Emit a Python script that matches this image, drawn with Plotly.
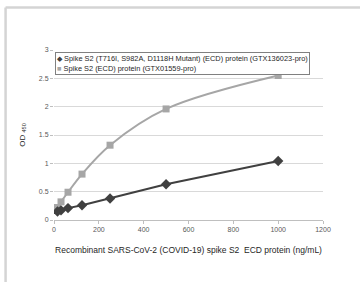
import plotly.graph_objects as go

conc = [15.625, 31.25, 62.5, 125, 250, 500, 1000]
mutant_od = [0.15, 0.17, 0.21, 0.26, 0.38, 0.63, 1.04]
wt_od = [0.22, 0.32, 0.49, 0.81, 1.32, 1.96, 2.55]

name_mut = "Spike S2 (T716I, S982A, D1118H Mutant) (ECD) protein (GTX136023-pro)"
name_wt = "Spike S2 (ECD) protein (GTX01559-pro)"

dark = "#404040"
light = "#a6a6a6"
font = "Liberation Sans"

fig = go.Figure()
fig.add_trace(go.Scatter(x=conc, y=wt_od, mode="lines", name=name_wt,
                         line=dict(color=light, width=2, shape="spline", smoothing=1.0),
                         showlegend=False, hoverinfo="skip"))
fig.add_trace(go.Scatter(x=conc, y=wt_od, mode="markers", name=name_wt,
                         marker=dict(symbol="square", size=7, color=light), showlegend=False))
fig.add_trace(go.Scatter(x=conc, y=mutant_od, mode="lines+markers", name=name_mut,
                         line=dict(color=dark, width=2),
                         marker=dict(symbol="diamond", size=8, color=dark), showlegend=False))

legend_text = (f'<span style="color:{dark}">◆</span> {name_mut}<br>'
               f'<span style="color:{light}">■</span> {name_wt}')
fig.add_annotation(xref="paper", yref="paper", x=0.004, y=0.988, xanchor="left", yanchor="top",
                   text=legend_text, showarrow=False, align="left",
                   font=dict(family=font, size=7.4, color="#262626"),
                   bgcolor="white", bordercolor="#808080", borderwidth=1, borderpad=1)

fig.update_layout(
    width=360, height=282,
    margin=dict(l=54, r=37, t=50, b=62),
    paper_bgcolor="white", plot_bgcolor="white",
    font=dict(family=font, size=7, color="#404040"),
    showlegend=False,
    xaxis=dict(range=[0, 1200], tickvals=[0, 200, 400, 600, 800, 1000, 1200],
               showgrid=False, zeroline=False, showline=True, linecolor="#bfbfbf", linewidth=1,
               ticks="outside", ticklen=3, tickcolor="#bfbfbf", automargin=False,
               tickfont=dict(size=7, color="#595959"),
               title=dict(text="Recombinant SARS-CoV-2 (COVID-19) spike S2  ECD protein (ng/mL)",
                          font=dict(size=8.5, color="#262626"), standoff=14)),
    yaxis=dict(range=[0, 3], tickvals=[0, 0.5, 1, 1.5, 2, 2.5, 3],
               ticktext=["0", "0.5", "1", "1.5", "2", "2.5", "3"],
               showgrid=True, gridcolor="#d9d9d9", gridwidth=1, zeroline=False, showline=False,
               ticks="outside", ticklen=3, tickcolor="#bfbfbf", automargin=False,
               tickfont=dict(size=7, color="#595959"),
               title=dict(text="OD <sub>450</sub>", font=dict(size=8, color="#262626"), standoff=12)),
)

# outer frame (light gray)
fig.add_shape(type="line", xref="paper", yref="paper", x0=-0.180, x1=1.2, y0=1.25, y1=1.25,
              line=dict(color="#d4d4d4", width=2.5))
fig.add_shape(type="line", xref="paper", yref="paper", x0=-0.180, x1=-0.180, y0=-0.4, y1=1.25,
              line=dict(color="#d4d4d4", width=2.5))

fig.write_html("out.html", config={"displayModeBar": False},
               post_script="document.body.style.margin='0';")
